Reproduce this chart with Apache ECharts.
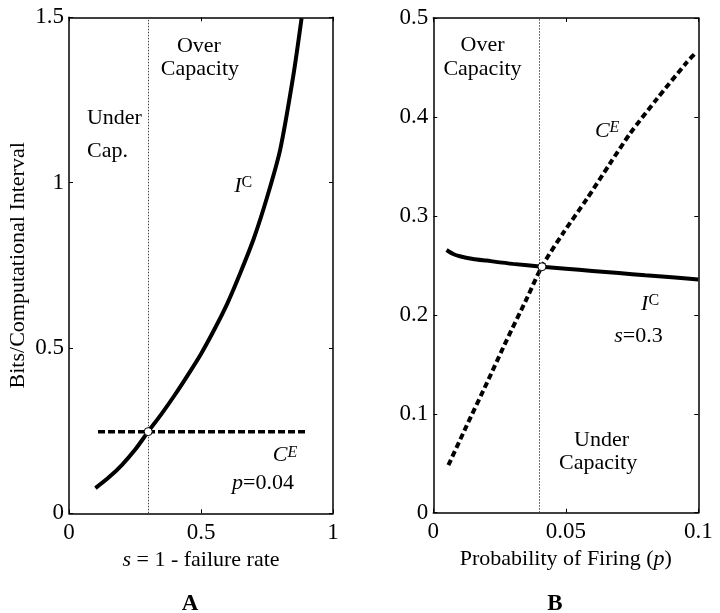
<!DOCTYPE html>
<html>
<head>
<meta charset="utf-8">
<script src="https://cdn.jsdelivr.net/npm/echarts@6/dist/echarts.min.js"></script>
<style>
html,body{margin:0;padding:0;background:#fff;}
#chart{width:720px;height:613px;}
</style>
</head>
<body>
<div id="chart"></div>
<script>
// ---- Panel A: information vs s (p = 0.04) ----
const sA   = [0.1, 0.15, 0.2, 0.25, 0.3, 0.35, 0.4, 0.45, 0.5, 0.55, 0.6, 0.65, 0.7, 0.75, 0.8, 0.85, 0.881];
const icA  = [0.076, 0.108, 0.146, 0.192, 0.247, 0.300, 0.357, 0.418, 0.482, 0.555, 0.635, 0.729, 0.831, 0.955, 1.10, 1.325, 1.497];
const sCEA = [0.11, 0.9];
const ceA  = [0.247, 0.247];
const crossA = [0.3, 0.247];

// ---- Panel B: information vs p (s = 0.3) ----
const pB   = [0.005, 0.0075, 0.01, 0.015, 0.02, 0.03, 0.041, 0.05, 0.06, 0.07, 0.08, 0.09, 0.1];
const icB  = [0.2655, 0.2615, 0.2592, 0.2565, 0.2548, 0.2515, 0.2486, 0.2466, 0.2444, 0.2422, 0.24, 0.2379, 0.2357];
const pCE  = [0.0057, 0.0126, 0.0202, 0.0277, 0.0352, 0.041, 0.0491, 0.0579, 0.0667, 0.0742, 0.0843, 0.0956, 0.0994];
const ceB  = [0.048, 0.088, 0.131, 0.1745, 0.216, 0.249, 0.283, 0.317, 0.353, 0.383, 0.418, 0.455, 0.466];
const crossB = [0.041, 0.2486];

const xTitleA = '{it|s} = 1 - failure rate';
const xTitleB = 'Probability of Firing ({it|p})';
const yTitle  = 'Bits/Computational Interval';

const FONT = 'Liberation Serif';
const pairs = (xs, ys) => xs.map((x, i) => [x, ys[i]]);

const rich = {
  it:  {fontFamily: FONT, fontSize: 22, fontStyle: 'italic', color: '#000'},
  sup: {fontFamily: FONT, fontSize: 16, verticalAlign: 'top', color: '#000'},
  supi:{fontFamily: FONT, fontSize: 16, fontStyle: 'italic', verticalAlign: 'top', color: '#000'}
};

const textBase = {fontFamily: FONT, fontSize: 22, color: '#000', textBorderWidth: 0};

function axisX(grid, pos, min, max, interval, showLabel, name) {
  return {
    type: 'value', gridIndex: grid, position: pos, min: min, max: max, interval: interval,
    axisLine: {show: true, onZero: false, lineStyle: {color: '#000', width: 1.5}},
    axisTick: {show: true, inside: true, length: 4, lineStyle: {color: '#000', width: 1}},
    axisLabel: {show: showLabel, margin: 8, ...textBase, fontSize: 23, rich: rich},
    splitLine: {show: false},
    name: name || '', nameLocation: 'middle', nameGap: 34,
    nameTextStyle: {...textBase, rich: rich}
  };
}
function axisY(grid, pos, min, max, interval, showLabel, name) {
  return {
    type: 'value', gridIndex: grid, position: pos, min: min, max: max, interval: interval,
    axisLine: {show: true, onZero: false, lineStyle: {color: '#000', width: 1.5}},
    axisTick: {show: true, inside: true, length: 4, lineStyle: {color: '#000', width: 1}},
    axisLabel: {show: showLabel, margin: 5, ...textBase, fontSize: 23},
    splitLine: {show: false},
    name: name || '', nameLocation: 'middle', nameGap: 40, nameRotate: 90,
    nameTextStyle: {...textBase}
  };
}

function ann(x, y, text, align) {
  const item = {value: [x, y], label: {formatter: text}};
  if (align) item.label.align = align;
  return item;
}
function annSeries(xi, yi, items) {
  return {
    type: 'scatter', xAxisIndex: xi, yAxisIndex: yi, symbolSize: 0, silent: true, z: 10,
    itemStyle: {opacity: 1, color: '#000'},
    data: items,
    label: {show: true, position: 'inside', ...textBase, rich: rich}
  };
}

const option = {
  animation: false,
  backgroundColor: '#fff',
  grid: [
    {left: 69, top: 17.3, width: 264, height: 496},
    {left: 433.3, top: 18, width: 265, height: 494.7}
  ],
  xAxis: [
    axisX(0, 'bottom', 0, 1, 0.5, true, xTitleA),
    axisX(0, 'top', 0, 1, 0.5, false),
    axisX(1, 'bottom', 0, 0.1, 0.05, true, xTitleB),
    axisX(1, 'top', 0, 0.1, 0.05, false)
  ],
  yAxis: [
    axisY(0, 'left', 0, 1.5, 0.5, true, yTitle),
    axisY(0, 'right', 0, 1.5, 0.5, false),
    axisY(1, 'left', 0, 0.5, 0.1, true),
    axisY(1, 'right', 0, 0.5, 0.1, false)
  ],
  graphic: [
    {type: 'text', x: 190, y: 604, style: {text: 'A', font: 'bold 23px "Liberation Serif"', fill: '#000', align: 'center', verticalAlign: 'middle'}},
    {type: 'text', x: 555, y: 604, style: {text: 'B', font: 'bold 23px "Liberation Serif"', fill: '#000', align: 'center', verticalAlign: 'middle'}}
  ],
  series: [
    // Panel A
    {
      type: 'line', xAxisIndex: 0, yAxisIndex: 0, data: pairs(sA, icA), smooth: 0.25,
      showSymbol: false, lineStyle: {color: '#000', width: 4}, z: 3,
      markLine: {
        silent: true, symbol: ['none', 'none'], label: {show: false},
        lineStyle: {type: [1.5, 1.5], color: '#444', width: 1},
        data: [{xAxis: crossA[0]}]
      }
    },
    {
      type: 'line', xAxisIndex: 0, yAxisIndex: 0, data: pairs(sCEA, ceA),
      showSymbol: false, lineStyle: {color: '#000', width: 3.5, type: [7, 3]}, z: 3
    },
    {
      type: 'scatter', xAxisIndex: 0, yAxisIndex: 0, data: [crossA], symbolSize: 8, z: 5,
      itemStyle: {color: '#fff', borderColor: '#000', borderWidth: 1, opacity: 1}
    },
    annSeries(0, 0, [
      ann(0.492, 1.413, 'Over'),
      ann(0.496, 1.343, 'Capacity'),
      ann(0.068, 1.195, 'Under', 'left'),
      ann(0.068, 1.096, 'Cap.', 'left'),
      ann(0.66, 0.99, '{it|I}{sup|C}'),
      ann(0.818, 0.175, '{it|C}{supi|E}'),
      ann(0.735, 0.092, '{it|p}=0.04')
    ]),
    // Panel B
    {
      type: 'line', xAxisIndex: 2, yAxisIndex: 2, data: pairs(pB, icB), smooth: 0.25,
      showSymbol: false, lineStyle: {color: '#000', width: 4}, z: 3,
      markLine: {
        silent: true, symbol: ['none', 'none'], label: {show: false},
        lineStyle: {type: [1.5, 1.5], color: '#444', width: 1},
        data: [{xAxis: crossB[0]}]
      }
    },
    {
      type: 'line', xAxisIndex: 2, yAxisIndex: 2, data: pairs(pCE, ceB), smooth: 0.25,
      showSymbol: false, lineStyle: {color: '#000', width: 4, type: [6, 3.5]}, z: 3
    },
    {
      type: 'scatter', xAxisIndex: 2, yAxisIndex: 2, data: [crossB], symbolSize: 8, z: 5,
      itemStyle: {color: '#fff', borderColor: '#000', borderWidth: 1, opacity: 1}
    },
    annSeries(2, 2, [
      ann(0.01857, 0.4727, 'Over'),
      ann(0.01857, 0.4484, 'Capacity'),
      ann(0.0656, 0.386, '{it|C}{supi|E}'),
      ann(0.0818, 0.211, '{it|I}{sup|C}'),
      ann(0.0774, 0.1786, '{it|s}=0.3'),
      ann(0.0635, 0.0735, 'Under'),
      ann(0.0622, 0.0503, 'Capacity')
    ])
  ]
};

const chart = echarts.init(document.getElementById('chart'), null, {renderer: 'canvas'});
chart.setOption(option);
</script>
</body>
</html>
